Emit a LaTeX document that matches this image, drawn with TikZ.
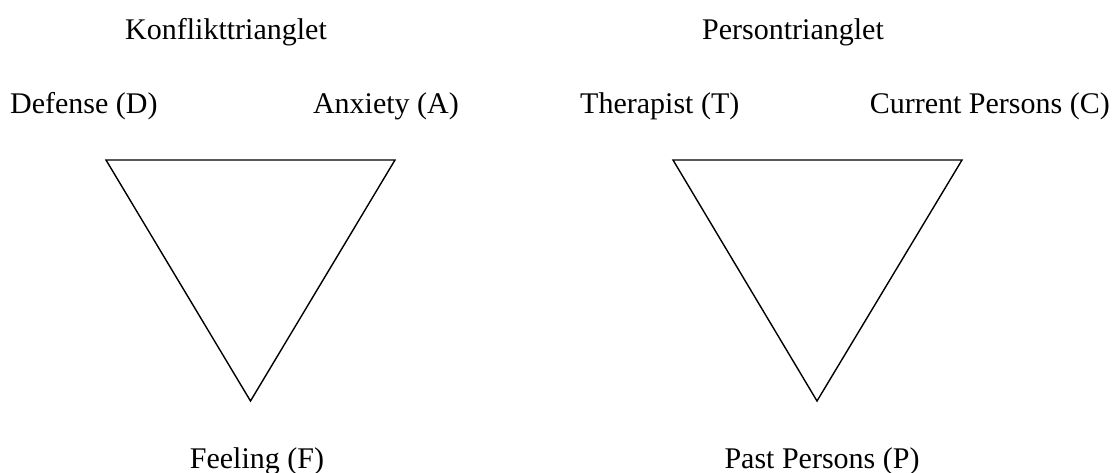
\documentclass[tikz,border=0pt]{standalone}
\usepackage{fontspec}
\setmainfont{Liberation Serif}
\begin{document}
\begin{tikzpicture}[x=1pt,y=-1pt,
  lbl/.style={inner sep=0pt,font=\fontsize{30}{36}\selectfont},
  tri/.style={draw=black,line width=1.4pt,line join=miter}]
\useasboundingbox (0,0) rectangle (1118,473);
% left triangle
\coordinate (d) at (106,160);
\coordinate (a) at (395,160);
\coordinate (f) at (250.5,401);
\draw[tri] (d) -- (a) -- (f) -- cycle;
% right triangle
\coordinate (t) at (673,160);
\coordinate (c) at (962,160);
\coordinate (p) at (817,401);
\draw[tri] (t) -- (c) -- (p) -- cycle;
% labels
\node[lbl,anchor=base] (kt) at (226,40) {Konflikttrianglet};
\node[lbl,anchor=base] (pt) at (793,40) {Persontrianglet};
\node[lbl,anchor=base west] (dl) at (10,114) {Defense (D)};
\node[lbl,anchor=base east] (al) at (459,114) {Anxiety (A)};
\node[lbl,anchor=base west] (tl) at (580,114) {Therapist (T)};
\node[lbl,anchor=base east] (cl) at (1110,114) {Current Persons (C)};
\node[lbl,anchor=base] (fl) at (257,468) {Feeling (F)};
\node[lbl,anchor=base] (pl) at (822,468) {Past Persons (P)};
\end{tikzpicture}
\end{document}
